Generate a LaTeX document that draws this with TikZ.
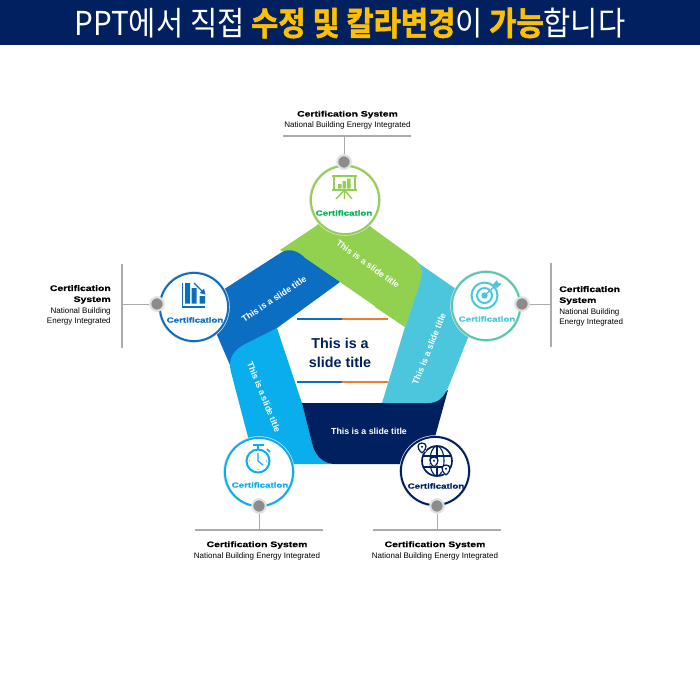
\documentclass[tikz,border=0pt]{standalone}
\usepackage{fontspec}
\setmainfont{Liberation Sans}
\newfontfamily\cjk[FakeStretch=0.9,BoldFont={Noto Sans CJK KR Bold},BoldFeatures={FakeBold=1.6}]{Noto Sans CJK KR}
\newfontfamily\widesans[FakeStretch=1.3,FakeBold=0.6]{Liberation Sans Bold}
\usetikzlibrary{positioning,calc}

\definecolor{headblue}{HTML}{002060}
\definecolor{headgold}{HTML}{FFC000}
\definecolor{bandgreen}{HTML}{92D050}
\definecolor{bandblue}{HTML}{0B6EC2}
\definecolor{bandsky}{HTML}{0BAEEC}
\definecolor{bandteal}{HTML}{4BC6DC}
\definecolor{bandnavy}{HTML}{002060}
\definecolor{certgreen}{HTML}{00B050}
\definecolor{ringteal}{HTML}{55C9B0}
\definecolor{lineorange}{HTML}{ED7D31}
\definecolor{linegray}{HTML}{ABABAB}

\newcommand{\certbold}[1]{{\widesans\fontsize{5.7}{6.6}\selectfont #1}}

\tikzset{
    hub/.style={circle, fill=white, line width=1.4pt, minimum size=48.5pt, inner sep=0pt,
        preaction={draw=black!13, line width=2.4pt}},
    pin/.style={circle, fill=gray!90, draw=black!12, line width=1.5pt, minimum size=9.6pt, inner sep=0pt},
    hublabel/.style={font=\widesans\fontsize{5.3}{6}\selectfont, inner sep=0pt},
    bandlabel/.style={font=\bfseries\fontsize{6.25}{7}\selectfont, text=white, inner sep=0pt},
    wire/.style={draw=linegray, line width=0.7pt},
    leader/.style={draw=linegray, line width=1pt},
    caption/.style={inner sep=0pt, text=black, font=\fontsize{5.7}{6.6}\selectfont},
    icon/.style={line width=1pt, line cap=butt}
}

\begin{document}
\begin{tikzpicture}[x=0.025cm,y=-0.025cm]
            \useasboundingbox (0,0) rectangle (700,700);
            \fill[white] (0,0) rectangle (700,700);
            \fill[headblue] (0,0) rectangle (700,45);
            \node[text=white, font=\cjk\fontsize{23.4}{25}\selectfont, inner sep=0pt] (banner) at (350,23)
                {PPT에서 직접 {\bfseries\color{headgold}수정 및 칼라변경}이 {\bfseries\color{headgold}가능}합니다};

            % bands of the pentagon, each one laid over the next
            \fill[bandgreen] (280,250) -- (316,226) -- (345,200) -- (372,228) -- (412,257) .. controls (422,264) and (424,272) .. (420,282) -- (405,327) -- (340,282) -- cycle;
            \fill[bandblue] (195,306) -- (226,288) -- (282,252) .. controls (290,248) and (298,251) .. (305,258) -- (340,282) -- (277,328) -- (240,350) -- (233,372) -- (217,335) -- cycle;
            \fill[bandsky] (277,328) -- (302,403) -- (313,447) .. controls (317,458) and (325,464) .. (335,464) -- (259,464) -- (248,437) -- (231,372) .. controls (228,360) and (232,352) .. (243,345) -- cycle;
            \fill[bandnavy] (302,403) -- (430,403) -- (448,390) -- (435,437) -- (435,464) -- (335,464) .. controls (325,464) and (317,458) .. (313,447) -- cycle;
            \fill[bandteal] (417,262) -- (453,287) -- (487,304) -- (467,340) -- (448,388) .. controls (443,398) and (438,403) .. (428,403) -- (382,403) -- (405,327) -- (420,282) -- cycle;
            \fill[bandgreen] (372,228) -- (412,257) .. controls (422,264) and (424,272) .. (420,282) -- (405,327) -- (375,307) -- cycle;

            \node[bandlabel, rotate=-36] (greenband) at (368,264) {This is a slide title};
            \node[bandlabel, rotate=34] (blueband) at (274,299) {This is a slide title};
            \node[bandlabel, rotate=-68] (skyband) at (264,397) {This is a slide title};
            \node[bandlabel, rotate=68] (tealband) at (429,349) {This is a slide title};
            \node[bandlabel] (navyband) at (369,431) {This is a slide title};

            % middle title and its two rules
            \node[font=\bfseries\fontsize{10.2}{13.4}\selectfont, text=headblue, align=center, inner sep=0pt] (midtitle) at (340,352.5) {This is a\\slide title};
            \draw[bandblue, line width=0.9pt] (297,319) -- (342,319);
            \draw[lineorange, line width=0.9pt] (342,319) -- (388,319);
            \draw[bandblue, line width=0.9pt] (297,382) -- (342,382);
            \draw[lineorange, line width=0.9pt] (342,382) -- (388,382);

            % hubs
            \node[hub, draw=bandgreen] (hubtop) at (345,200) {};
            \node[hub, draw=bandblue] (hubleft) at (194,307) {};
            \node[hub, draw=ringteal] (hubright) at (486,306) {};
            \node[hub, draw=bandsky] (hubsky) at (259,472) {};
            \node[hub, draw=bandnavy] (hubnavy) at (435,471) {};

            \node[hublabel, text=certgreen] (certtop) at (344,213) {Certification};
            \node[hublabel, text=bandblue] (certleft) at (195,320) {Certification};
            \node[hublabel, text=bandteal] (certright) at (487,319) {Certification};
            \node[hublabel, text=bandsky] (certsky) at (260,485) {Certification};
            \node[hublabel, text=bandnavy] (certnavy) at (436,486) {Certification};

            % board icon
            \begin{scope}[icon, draw=bandgreen]
                \draw[line width=1.3pt] (332,176) -- (357,176);
                \draw[line width=1.1pt] (334,176) rectangle (355,190);
                \draw[line width=1.3pt] (332,190) -- (357,190);
                \draw (344.5,190) -- (336,199) (344.5,190) -- (352,199) (344.5,190) -- (344.5,199);
                \fill[bandgreen] (338,184) rectangle (341.5,188.5) (342.7,181) rectangle (346,188.5) (347.2,178.5) rectangle (350.5,188.5);
            \end{scope}
            % falling bars icon
            \begin{scope}[icon, draw=bandblue]
                \draw[line width=1.3pt] (182.5,283) -- (182.5,307) -- (205,307);
                \fill[bandblue] (185,283) rectangle (190,303.5) (191.5,288) rectangle (196.5,303.5) (199.5,296) rectangle (205,303.5);
                \draw[line width=0.8pt] (194,283) -- (204,293);
                \fill[bandblue] (205.5,294.5) -- (199.5,293) -- (204,288.5) -- cycle;
            \end{scope}
            % target icon
            \begin{scope}[icon, draw=bandteal]
                \draw[line width=1.4pt] (484.5,295.5) circle (13);
                \draw[line width=1.4pt] (484.5,295.5) circle (7.5);
                \fill[bandteal] (484.5,295.5) circle (3.2);
                \draw[line width=1pt] (484.5,295.5) -- (495,286);
                \fill[bandteal] (493,284.5) -- (497,280) -- (498,283) -- (501.5,283.5) -- (497,288) -- cycle;
            \end{scope}
            % stopwatch icon
            \begin{scope}[icon, draw=bandsky]
                \draw[line width=1.4pt] (258,461) circle (11.5);
                \draw[line width=1.4pt] (253,445) -- (263.5,445);
                \draw[line width=1.2pt] (258,445) -- (258,449.5);
                \draw[line width=1.2pt] (267,449) -- (270,452);
                \draw[line width=0.8pt] (258,453) -- (258,461) -- (263,465);
                \fill[bandsky] (258,469.5) circle (0.6) (249.5,461) circle (0.6) (266.5,461) circle (0.6);
            \end{scope}
            % globe icon
            \begin{scope}[icon, draw=bandnavy]
                \draw[line width=1.2pt] (437,461) circle (15);
                \draw[line width=0.8pt] (437,461) ellipse (7 and 15);
                \draw[line width=0.8pt] (423,456) -- (451,456) (423,467) -- (451,467) (437,446) -- (437,476);
                \foreach \px/\py in {422/453, 434/467, 446/475}{
                    \fill[white] (\px,\py-5) circle (5);
                    \filldraw[fill=white, line width=0.9pt] (\px,\py) .. controls (\px-6,\py-5) and (\px-4.5,\py-10) .. (\px,\py-10) .. controls (\px+4.5,\py-10) and (\px+6,\py-5) .. (\px,\py);
                    \fill[bandnavy] (\px,\py-6.3) circle (1.2);
                }
            \end{scope}

            % pins, leaders and captions
            \node[pin] (pintop) at (344,162) {};
            \node[pin] (pinleft) at (157,304) {};
            \node[pin] (pinright) at (522,304) {};
            \node[pin] (pinsky) at (259,506) {};
            \node[pin] (pinnavy) at (437,506) {};

            \coordinate (barleft) at (122,304);
            \coordinate (barright) at (551,304);
            \coordinate (bartop) at (344,136);
            \coordinate (barsky) at (259,530);
            \coordinate (barnavy) at (437,530);

            \draw[wire] (pintop) -- (bartop);
            \draw[wire] (pinleft) -- (barleft);
            \draw[wire] (pinright) -- (barright);
            \draw[wire] (pinsky) -- (barsky);
            \draw[wire] (pinnavy) -- (barnavy);

            \draw[leader] (283,136) -- (411,136);
            \draw[leader] (122,264) -- (122,348);
            \draw[leader] (551,263) -- (551,347);
            \draw[leader] (195,530) -- (323,530);
            \draw[leader] (373,530) -- (501,530);

            \node[caption, align=center] (captop) at (347.5,120) {\certbold{Certification System}\\[1.2pt]National Building Energy Integrated};
            \node[caption, align=right, anchor=east] (capleft) at (111,305) {\certbold{Certification}\\[1.2pt]\certbold{System}\\[1.9pt]National Building\\Energy Integrated};
            \node[caption, align=left, anchor=west] (capright) at (559,306) {\certbold{Certification}\\[1.2pt]\certbold{System}\\[1.9pt]National Building\\Energy Integrated};
            \node[caption, align=center] (capsky) at (257,550.5) {\certbold{Certification System}\\[1.2pt]National Building Energy Integrated};
            \node[caption, align=center] (capnavy) at (435,550.5) {\certbold{Certification System}\\[1.2pt]National Building Energy Integrated};
        \end{tikzpicture}
\end{document}
